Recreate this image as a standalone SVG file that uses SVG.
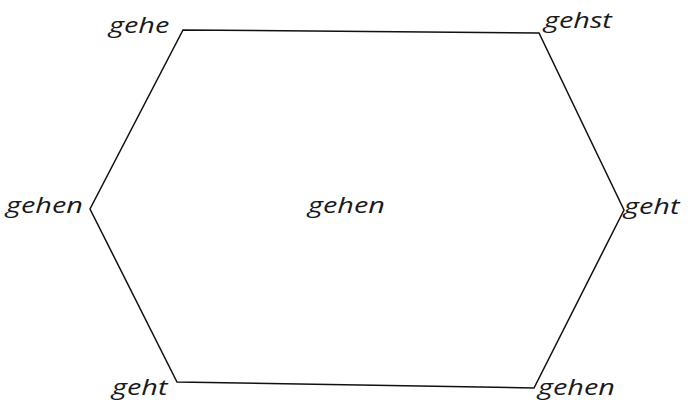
<svg xmlns="http://www.w3.org/2000/svg" width="688" height="403" viewBox="0 0 688 403">
<style>
text{font-family:"Open Sans","Noto Sans","Liberation Sans",sans-serif;font-style:italic;font-size:21.5px;fill:#1a1a1a}
.edge{fill:none;stroke:#111;stroke-width:1.5;stroke-linejoin:miter}
</style>
<rect width="688" height="403" fill="#fff"/>
<g id="connectors">
<polygon class="edge" points="183,30 539,33 624,210 534,388 177,382 90,209"/>
</g>
<g id="n-top-left"><text transform="translate(109,33) scale(1.34,1)">gehe</text></g>
<g id="n-top-right"><text transform="translate(544,28) scale(1.34,1)">gehst</text></g>
<g id="n-left"><text transform="translate(6,213) scale(1.34,1)">gehen</text></g>
<g id="n-right"><text transform="translate(624,214) scale(1.34,1)">geht</text></g>
<g id="n-bottom-left"><text transform="translate(112,395) scale(1.34,1)">geht</text></g>
<g id="n-bottom-right"><text transform="translate(538,395) scale(1.34,1)">gehen</text></g>
<g id="n-center"><text transform="translate(308,213) scale(1.34,1)">gehen</text></g>
</svg>
